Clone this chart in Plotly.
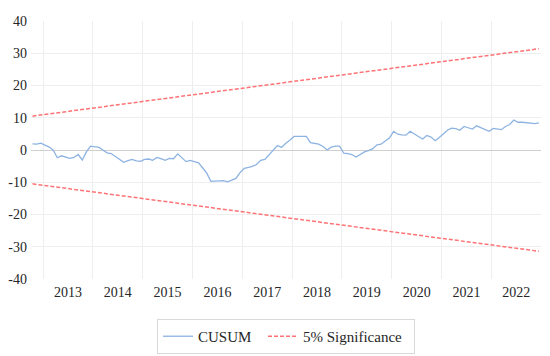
import pandas as pd
import plotly.graph_objects as go

# Monthly observations, Oct 2012 .. Dec 2022
months = pd.date_range("2012-10-01", periods=123, freq="MS") + pd.Timedelta(days=14)

cusum = [
    1.9, 1.8, 2.1,
    1.5, 0.9, 0.0, -2.4, -1.8, -2.1, -2.6, -2.3, -1.4, -3.1, -0.5, 1.2,
    1.1, 0.8, 0.0, -0.9, -1.1, -2.1, -2.8, -3.8, -3.3, -2.9, -3.4, -3.5,
    -2.9, -2.8, -3.2, -2.3, -2.7, -3.2, -2.6, -2.7, -1.2, -2.5, -3.6, -3.2,
    -3.5, -4.0, -5.5, -7.2, -9.7, -9.6, -9.7, -9.5, -9.9, -9.4, -8.8, -7.0,
    -5.7, -5.4, -5.1, -4.5, -3.2, -2.9, -1.6, -0.2, 1.4, 0.8, 2.1, 3.0,
    4.2, 4.2, 4.3, 4.2, 2.3, 2.1, 1.8, 1.1, 0.0, 0.9, 1.2, 1.2,
    -1.0, -1.1, -1.4, -2.2, -1.4, -0.6, -0.2, 0.4, 1.6, 1.8, 2.8, 3.7,
    5.8, 4.9, 4.7, 4.6, 5.8, 5.1, 4.2, 3.4, 4.5, 4.0, 2.9, 3.9,
    5.2, 6.2, 6.8, 6.6, 6.1, 7.3, 6.9, 6.5, 7.5, 6.9, 6.4, 5.8,
    6.7, 6.5, 6.3, 7.3, 7.9, 9.3, 8.6, 8.6, 8.5, 8.5, 8.2, 8.4,
]

# 5% significance bounds (straight lines) at first and last observation
bound_x = [months[0], months[-1]]
upper = [10.5, 31.4]
lower = [-10.5, -31.4]

years = list(range(2013, 2023))
year_labels = [str(y) for y in years]
y_ticks = [40, 30, 20, 10, 0, -10, -20, -30, -40]

FONT = "Liberation Serif, Times New Roman, Times, serif"
BLUE = "#8db3e2"
RED = "#ff7376"

fig = go.Figure()
fig.add_trace(go.Scatter(x=months, y=cusum, mode="lines", name="CUSUM",
                         legendwidth=60,
                         line=dict(color=BLUE, width=1.3)))
fig.add_trace(go.Scatter(x=bound_x, y=upper, mode="lines", name="5% Significance",
                         legendwidth=106,
                         line=dict(color=RED, width=1.5, dash="4px,2px")))
fig.add_trace(go.Scatter(x=bound_x, y=lower, mode="lines", name="5% Significance",
                         showlegend=False,
                         line=dict(color=RED, width=1.5, dash="4px,2px")))

# page body adds an 8px margin, so the figure is sized to fit the window
fig.update_layout(
    width=542, height=348,
    margin=dict(l=23, r=9, t=13, b=77, autoexpand=False),
    paper_bgcolor="white", plot_bgcolor="white",
    font=dict(family=FONT, size=14, color="#262626"),
    showlegend=True,
    legend=dict(orientation="h", x=0.5, xanchor="center", y=-0.155, yanchor="top",
                bordercolor="#d9d9d9", borderwidth=1, bgcolor="white",
                font=dict(family=FONT, size=15, color="#262626"),
                itemwidth=30, tracegroupgap=0),
    xaxis=dict(
        type="date",
        range=["2012-10-04", "2022-12-31"],
        tickmode="array",
        tickvals=[f"{y}-07-02" for y in years],
        ticktext=year_labels,
        showgrid=False, ticks="", zeroline=False,
        showline=True, linecolor="white", linewidth=1, mirror=True,
        ticklabelstandoff=0, automargin=False,
        minor=dict(tickmode="array", tickvals=[f"{y}-01-01" for y in years],
                   showgrid=True, gridcolor="#eeeeee", gridwidth=1, ticks=""),
        fixedrange=True,
    ),
    yaxis=dict(
        range=[-40, 40],
        tickmode="array", tickvals=y_ticks, ticktext=[str(v) for v in y_ticks],
        showgrid=True, gridcolor="#eeeeee", gridwidth=1,
        zeroline=True, zerolinecolor="#cfcfcf", zerolinewidth=1,
        ticks="", ticklabelstandoff=3, automargin=False,
        fixedrange=True,
    ),
)

fig.write_html("out.html")
